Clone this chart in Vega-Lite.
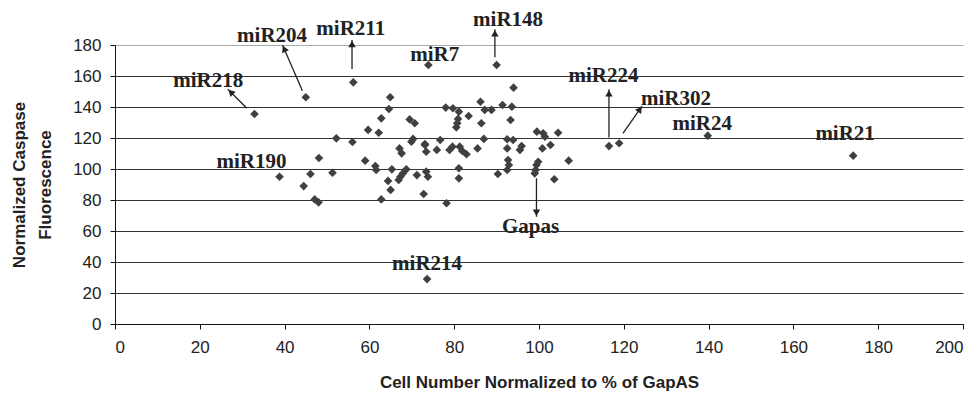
{
  "$schema": "https://vega.github.io/schema/vega-lite/v6.json",
  "width": 848,
  "height": 279,
  "autosize": {"type": "none"},
  "padding": {"left": 115, "top": 45, "right": 16, "bottom": 75},
  "background": "white",
  "config": {
    "view": {"stroke": null},
    "axis": {
      "labelFont": "Liberation Sans",
      "labelFontSize": 17,
      "labelColor": "#222",
      "titleFont": "Liberation Sans",
      "titleFontSize": 17,
      "titleFontWeight": "bold",
      "titleColor": "#222",
      "domainColor": "#111",
      "tickColor": "#111",
      "tickSize": 5
    }
  },
  "datasets": {
    "pts": [
      {"x": 32.9, "y": 135.5}, {"x": 45.0, "y": 146.3}, {"x": 56.2, "y": 155.9}, {"x": 73.9, "y": 167.1},
      {"x": 90.0, "y": 167.1}, {"x": 94.0, "y": 152.5}, {"x": 64.9, "y": 146.3}, {"x": 64.6, "y": 138.7},
      {"x": 62.8, "y": 132.7}, {"x": 69.5, "y": 132.0}, {"x": 70.7, "y": 129.5}, {"x": 59.7, "y": 125.2},
      {"x": 62.2, "y": 123.4}, {"x": 52.2, "y": 119.8}, {"x": 56.0, "y": 117.4}, {"x": 70.3, "y": 119.4},
      {"x": 69.9, "y": 117.6}, {"x": 73.1, "y": 116.1}, {"x": 76.7, "y": 118.7}, {"x": 67.1, "y": 113.3},
      {"x": 67.6, "y": 110.1}, {"x": 73.4, "y": 111.2}, {"x": 75.9, "y": 112.3}, {"x": 78.9, "y": 112.3},
      {"x": 79.6, "y": 114.4}, {"x": 81.3, "y": 114.4}, {"x": 81.9, "y": 111.6}, {"x": 82.9, "y": 109.5},
      {"x": 48.1, "y": 107.1}, {"x": 59.0, "y": 105.4}, {"x": 61.4, "y": 101.9}, {"x": 61.6, "y": 99.4},
      {"x": 65.3, "y": 99.8}, {"x": 38.8, "y": 95.0}, {"x": 46.1, "y": 96.8}, {"x": 51.3, "y": 97.6},
      {"x": 68.7, "y": 99.8}, {"x": 67.9, "y": 97.2}, {"x": 67.3, "y": 95.0}, {"x": 66.9, "y": 92.9},
      {"x": 64.4, "y": 92.3}, {"x": 71.2, "y": 96.1}, {"x": 73.4, "y": 98.3}, {"x": 73.8, "y": 95.0},
      {"x": 44.5, "y": 89.0}, {"x": 65.0, "y": 86.5}, {"x": 72.8, "y": 83.9}, {"x": 47.1, "y": 80.4},
      {"x": 48.0, "y": 78.5}, {"x": 62.8, "y": 80.4}, {"x": 78.2, "y": 77.9}, {"x": 73.6, "y": 29.0},
      {"x": 78.0, "y": 139.6}, {"x": 79.7, "y": 139.2}, {"x": 81.1, "y": 137.0}, {"x": 86.2, "y": 143.4},
      {"x": 87.2, "y": 138.1}, {"x": 88.8, "y": 138.1}, {"x": 91.4, "y": 141.3}, {"x": 93.6, "y": 140.2},
      {"x": 83.4, "y": 134.2}, {"x": 80.9, "y": 132.3}, {"x": 80.7, "y": 129.5}, {"x": 80.5, "y": 126.9},
      {"x": 86.4, "y": 129.5}, {"x": 93.3, "y": 131.6}, {"x": 85.5, "y": 113.3}, {"x": 87.0, "y": 119.4},
      {"x": 92.5, "y": 119.2}, {"x": 93.9, "y": 118.7}, {"x": 92.5, "y": 113.3}, {"x": 95.9, "y": 114.8},
      {"x": 95.5, "y": 112.3}, {"x": 99.5, "y": 124.1}, {"x": 101.0, "y": 123.0}, {"x": 101.4, "y": 120.8},
      {"x": 104.5, "y": 123.4}, {"x": 102.7, "y": 115.5}, {"x": 100.8, "y": 113.3}, {"x": 107.0, "y": 105.4},
      {"x": 92.7, "y": 105.8}, {"x": 92.9, "y": 102.6}, {"x": 92.5, "y": 99.4}, {"x": 90.3, "y": 96.8},
      {"x": 99.8, "y": 104.7}, {"x": 99.4, "y": 102.6}, {"x": 99.2, "y": 99.4}, {"x": 99.0, "y": 97.2},
      {"x": 103.6, "y": 93.4}, {"x": 81.1, "y": 100.5}, {"x": 81.1, "y": 94.0}, {"x": 73.1, "y": 115.5},
      {"x": 116.5, "y": 114.8}, {"x": 118.9, "y": 116.6}, {"x": 139.8, "y": 121.5}, {"x": 174.1, "y": 108.6}
    ],
    "arrows": [
      {"name": "miR218", "x": 31.1, "y": 139.2, "x2": 26.6, "y2": 151.4, "hx": 27.3, "hy": 149.6, "angle": 315},
      {"name": "miR204", "x": 44.2, "y": 150.5, "x2": 39.5, "y2": 180.0, "hx": 39.9, "hy": 177.6, "angle": 336},
      {"name": "miR211", "x": 55.9, "y": 164.5, "x2": 55.9, "y2": 183.2, "hx": 55.9, "hy": 180.6, "angle": 0},
      {"name": "miR148", "x": 89.6, "y": 172.1, "x2": 89.6, "y2": 190.1, "hx": 89.6, "hy": 187.5, "angle": 0},
      {"name": "miR224", "x": 116.5, "y": 120.4, "x2": 116.5, "y2": 151.4, "hx": 116.5, "hy": 148.8, "angle": 0},
      {"name": "miR302", "x": 119.8, "y": 123.0, "x2": 124.3, "y2": 140.6, "hx": 123.8, "hy": 138.5, "angle": 35},
      {"name": "Gapas", "x": 99.4, "y": 94.0, "x2": 99.4, "y2": 69.2, "hx": 99.4, "hy": 71.8, "angle": 180}
    ],
    "labels": [
      {"label": "miR218", "x": 22.0, "y": 152.7},
      {"label": "miR204", "x": 37.05, "y": 182.1},
      {"label": "miR211", "x": 55.6, "y": 186.5},
      {"label": "miR7", "x": 75.4, "y": 169.7},
      {"label": "miR148", "x": 92.7, "y": 192.3},
      {"label": "miR224", "x": 115.2, "y": 156.3},
      {"label": "miR302", "x": 132.3, "y": 141.3},
      {"label": "miR24", "x": 138.5, "y": 125.2},
      {"label": "miR21", "x": 172.2, "y": 118.7},
      {"label": "miR190", "x": 32.2, "y": 100.4},
      {"label": "miR214", "x": 73.6, "y": 34.8},
      {"label": "Gapas", "x": 98.0, "y": 58.5}
    ]
  },
  "encoding": {
    "x": {
      "field": "x", "type": "quantitative",
      "scale": {"domain": [0, 200], "nice": false, "zero": false},
      "axis": {
        "title": "Cell Number Normalized to % of GapAS",
        "values": [0, 20, 40, 60, 80, 100, 120, 140, 160, 180, 200],
        "grid": false,
        "labelPadding": 10,
        "titlePadding": 19
      }
    },
    "y": {
      "field": "y", "type": "quantitative",
      "scale": {"domain": [0, 180], "nice": false, "zero": false},
      "axis": {
        "title": ["Normalized Caspase", "Fluorescence"],
        "values": [0, 20, 40, 60, 80, 100, 120, 140, 160, 180],
        "grid": true,
        "gridColor": {"condition": {"test": "datum.value >= 180", "value": "#aaaaaa"}, "value": "#333333"},
        "gridWidth": 1,
        "labelPadding": 9,
        "titlePadding": 18,
        "titleLineHeight": 26
      }
    }
  },
  "layer": [
    {
      "data": {"name": "arrows"},
      "mark": {"type": "rule", "color": "#222", "strokeWidth": 1.3},
      "encoding": {"x2": {"field": "x2"}, "y2": {"field": "y2"}}
    },
    {
      "data": {"name": "arrows"},
      "mark": {"type": "point", "shape": "triangle-up", "filled": true, "color": "#222", "size": 55, "opacity": 1},
      "encoding": {
        "x": {"field": "hx", "type": "quantitative"},
        "y": {"field": "hy", "type": "quantitative"},
        "angle": {"field": "angle", "type": "quantitative", "scale": null}
      }
    },
    {
      "data": {"name": "pts"},
      "mark": {"type": "point", "shape": "diamond", "filled": true, "color": "#404040", "size": 75, "opacity": 1}
    },
    {
      "data": {"name": "labels"},
      "mark": {"type": "text", "font": "Liberation Serif", "fontWeight": "bold", "fontSize": 21, "color": "#222", "align": "center", "baseline": "alphabetic"},
      "encoding": {"text": {"field": "label"}}
    }
  ]
}
